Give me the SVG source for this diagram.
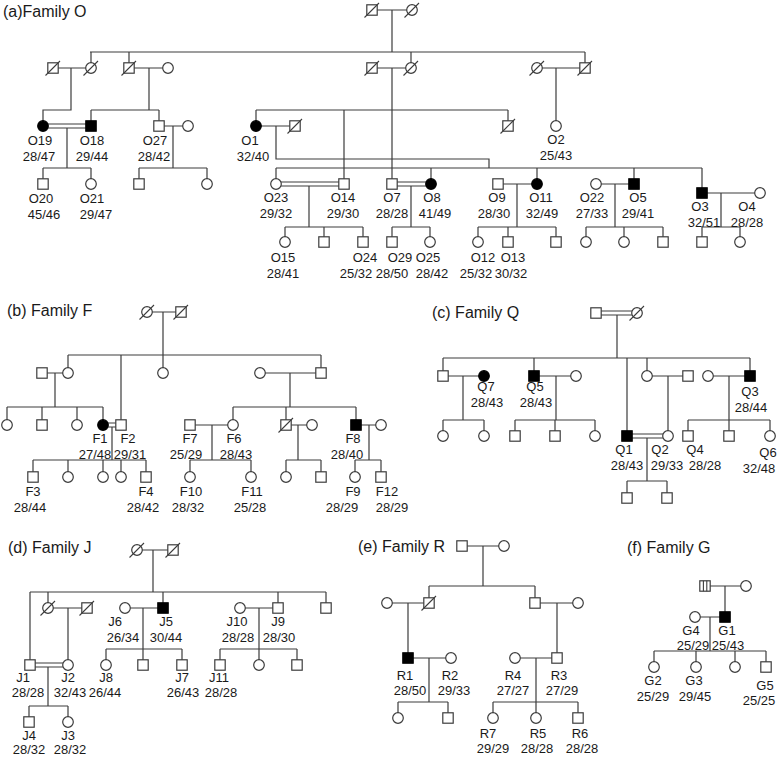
<svg xmlns="http://www.w3.org/2000/svg" width="778" height="757" viewBox="0 0 778 757">
<style>
text{font-family:"Liberation Sans",Arial,sans-serif;font-size:13px;fill:#1a1a1a;text-anchor:middle}
text.t{font-size:16px;text-anchor:start}
use.o{fill:#fff;stroke:#3c3c3c;stroke-width:1.2}
use.b{fill:#000;stroke:#000;stroke-width:1.2}
use.x{fill:none;stroke:#3c3c3c;stroke-width:1.1}
</style>
<defs>
<rect id="s" x="-5.2" y="-5.2" width="10.4" height="10.4"/>
<circle id="c" r="5.3"/>
<line id="d" x1="-7.5" y1="7.5" x2="7" y2="-7"/>
<path id="tw" d="M-1.6,-5.2V5.2M1.8,-5.2V5.2"/>
</defs>
<rect width="778" height="757" fill="#fff"/>
<text class="t" x="3" y="17">(a)Family O</text>
<text class="t" x="7" y="316">(b) Family F</text>
<text class="t" x="432" y="318">(c) Family Q</text>
<text class="t" x="8" y="553">(d) Family J</text>
<text class="t" x="358" y="552">(e) Family R</text>
<text class="t" x="627" y="553">(f) Family G</text>
<g id="connectors" fill="none" stroke="#3c3c3c" stroke-width="1.2">
<path d="M372,10H412M392,10V52M90,52H585M91,52V68M129,52V68M411,52V68M585,52V68M53,68H91M71,68V110H43V126M129,68H168M149,68V110M91,110H159M91,110V126M159,110V126M372,68H411M392,68V184M256,110H508M256,110V126M344,110V184M508,110V126M537,68H585M556,68V126"/>
<path d="M48,124H86M48,128H86M67,128V168M43,168H91M43,168V184M91,168V184M159,126H188M173,126V168M139,168H207M139,168V184M207,168V184M256,126H295M276,126V159H489V168M276,168H702M276,168V184M431,168V184M537,168V184M634,168V184M702,168V193"/>
<path d="M281,182H339M281,186H339M309,186V227M285,227H363M285,227V242M324,227V242M363,227V242M397,182H426M397,186H426M411,186V227M392,227H430M392,227V242M430,227V242M498,184H537M517,184V227M478,227H556M478,227V242M508,227V242M556,227V242M596,184H634M615,184V227M586,227H663M586,227V242M624,227V242M663,227V242M702,193H760M721,193V227M702,227H740M702,227V242M740,227V242"/>
<path d="M147,312H181M163,312V355M68,355H321M68,355V373M121,355V425M163,355V373M321,355V373M42,373H68M55,373V407M7,407H103M7,407V425M42,407V425M77,407V425M103,407V425M108,423H116M108,427H116M112,427V460M33,460H146M33,460V477M68,460V477M103,460V477M121,460V477M146,460V477"/>
<path d="M260,373H321M290,373V407M233,407H356M233,407V425M286,407V425M356,407V425M190,425H233M212,425V460M190,460H251M190,460V477M251,460V477M286,425H312M298,425V460M286,460H321M286,460V477M321,460V477M356,425H381M369,425V460M355,460H381M355,460V477M381,460V477"/>
<path d="M601,311H632M601,315H632M617,315V358M443,358H750M443,358V376M534,358V376M627,358V436M647,358V376M750,358V376M443,376H484M463,376V420M443,420H484M443,420V436M484,420V436M534,376H576M556,376V420M515,420H595M515,420V436M555,420V436M595,420V436M647,376H688M668,376V436M632,434H663M632,438H663M647,438V481M627,481H667M627,481V498M667,481V498M708,376H750M729,376V420M688,420H770M688,420V436M729,420V436M770,420V436"/>
<path d="M137,550H173M153,550V592M30,592H326M30,592V665M48,592V608M163,592V608M278,592V608M326,592V608M48,608H87M68,608V665M35,663H63M35,667H63M48,667V706M29,706H68M29,706V722M68,706V722M125,608H163M143,608V649M106,649H182M106,649V665M143,649V665M182,649V665M240,608H278M259,608V649M220,649H297M220,649V665M259,649V665M297,649V665"/>
<path d="M462,546H504M483,546V586M429,586H535M429,586V603M535,586V603M387,603H429M408,603V658M535,603H578M557,603V658M408,658H451M429,658V702M398,702H448M398,702V718M448,702V718M515,658H557M536,658V702M493,702H578M493,702V718M536,702V718M578,702V718"/>
<path d="M705,586H746M725,586V617M695,617H725M710,617V651M654,651H766M654,651V667M696,651V667M735,651V667M766,651V667"/>
</g>
<g id="familyO">
<g id="O-gp1"><use href="#s" x="372" y="10" class="o"/><use href="#d" x="372" y="10" class="x"/></g>
<g id="O-gp2"><use href="#c" x="412" y="10" class="o"/><use href="#d" x="412" y="10" class="x"/></g>
<g id="O-a1"><use href="#s" x="53" y="68" class="o"/><use href="#d" x="53" y="68" class="x"/></g>
<g id="O-a2"><use href="#c" x="91" y="68" class="o"/><use href="#d" x="91" y="68" class="x"/></g>
<g id="O-b1"><use href="#s" x="129" y="68" class="o"/><use href="#d" x="129" y="68" class="x"/></g>
<g id="O-b2"><use href="#c" x="168" y="68" class="o"/></g>
<g id="O-c1"><use href="#s" x="372" y="68" class="o"/><use href="#d" x="372" y="68" class="x"/></g>
<g id="O-c2"><use href="#c" x="411" y="68" class="o"/><use href="#d" x="411" y="68" class="x"/></g>
<g id="O-d1"><use href="#c" x="537" y="68" class="o"/><use href="#d" x="537" y="68" class="x"/></g>
<g id="O-d2"><use href="#s" x="585" y="68" class="o"/><use href="#d" x="585" y="68" class="x"/></g>
<g id="O2"><use href="#c" x="556" y="126" class="o"/><text x="556" y="144">O2</text><text x="556" y="160">25/43</text></g>
<g id="O19"><use href="#c" x="43" y="126" class="b"/><text x="40" y="145">O19</text><text x="39" y="161">28/47</text></g>
<g id="O18"><use href="#s" x="91" y="126" class="b"/><text x="92" y="145">O18</text><text x="92" y="161">29/44</text></g>
<g id="O27"><use href="#s" x="159" y="126" class="o"/><text x="155" y="145">O27</text><text x="154" y="161">28/42</text></g>
<g id="O-e1"><use href="#c" x="188" y="126" class="o"/></g>
<g id="O1"><use href="#c" x="256" y="126" class="b"/><text x="250" y="145">O1</text><text x="253" y="161">32/40</text></g>
<g id="O-f1"><use href="#s" x="295" y="126" class="o"/><use href="#d" x="295" y="126" class="x"/></g>
<g id="O-g1"><use href="#s" x="508" y="126" class="o"/><use href="#d" x="508" y="126" class="x"/></g>
<g id="O20"><use href="#s" x="43" y="184" class="o"/><text x="41" y="203">O20</text><text x="44" y="219">45/46</text></g>
<g id="O21"><use href="#c" x="91" y="184" class="o"/><text x="92" y="203">O21</text><text x="96" y="219">29/47</text></g>
<g id="O-h1"><use href="#s" x="139" y="184" class="o"/></g>
<g id="O-h2"><use href="#c" x="207" y="184" class="o"/></g>
<g id="O23"><use href="#c" x="276" y="184" class="o"/><text x="276" y="202">O23</text><text x="276" y="218">29/32</text></g>
<g id="O14"><use href="#s" x="344" y="184" class="o"/><text x="343" y="202">O14</text><text x="343" y="218">29/30</text></g>
<g id="O7"><use href="#s" x="392" y="184" class="o"/><text x="392" y="202">O7</text><text x="392" y="218">28/28</text></g>
<g id="O8"><use href="#c" x="431" y="184" class="b"/><text x="432" y="202">O8</text><text x="435" y="218">41/49</text></g>
<g id="O9"><use href="#s" x="498" y="184" class="o"/><text x="497" y="202">O9</text><text x="494" y="218">28/30</text></g>
<g id="O11"><use href="#c" x="537" y="184" class="b"/><text x="541" y="202">O11</text><text x="542" y="218">32/49</text></g>
<g id="O22"><use href="#c" x="596" y="184" class="o"/><text x="592" y="202">O22</text><text x="592" y="218">27/33</text></g>
<g id="O5"><use href="#s" x="634" y="184" class="b"/><text x="638" y="202">O5</text><text x="638" y="218">29/41</text></g>
<g id="O3"><use href="#s" x="702" y="193" class="b"/><text x="700" y="211">O3</text><text x="704" y="227">32/51</text></g>
<g id="O4"><use href="#c" x="760" y="193" class="o"/><text x="747" y="211">O4</text><text x="747" y="227">28/28</text></g>
<g id="O15"><use href="#c" x="285" y="242" class="o"/><text x="283" y="262">O15</text><text x="283" y="278">28/41</text></g>
<g id="O-i1"><use href="#s" x="324" y="242" class="o"/></g>
<g id="O24"><use href="#s" x="363" y="242" class="o"/><text x="365" y="262">O24</text><text x="356" y="278">25/32</text></g>
<g id="O29"><use href="#s" x="392" y="242" class="o"/><text x="400" y="262">O29</text><text x="392" y="278">28/50</text></g>
<g id="O25"><use href="#c" x="430" y="242" class="o"/><text x="428" y="262">O25</text><text x="432" y="278">28/42</text></g>
<g id="O12"><use href="#c" x="478" y="242" class="o"/><text x="483" y="262">O12</text><text x="476" y="278">25/32</text></g>
<g id="O13"><use href="#s" x="508" y="242" class="o"/><text x="513" y="262">O13</text><text x="511" y="278">30/32</text></g>
<g id="O-i2"><use href="#s" x="556" y="242" class="o"/></g>
<g id="O-i3"><use href="#c" x="586" y="242" class="o"/></g>
<g id="O-i4"><use href="#c" x="624" y="242" class="o"/></g>
<g id="O-i5"><use href="#s" x="663" y="242" class="o"/></g>
<g id="O-i6"><use href="#s" x="702" y="242" class="o"/></g>
<g id="O-i7"><use href="#c" x="740" y="242" class="o"/></g>
</g>
<g id="familyF">
<g id="F-p1"><use href="#c" x="147" y="312" class="o"/><use href="#d" x="147" y="312" class="x"/></g>
<g id="F-p2"><use href="#s" x="181" y="312" class="o"/><use href="#d" x="181" y="312" class="x"/></g>
<g id="F-a1"><use href="#s" x="42" y="373" class="o"/></g>
<g id="F-a2"><use href="#c" x="68" y="373" class="o"/></g>
<g id="F-b1"><use href="#c" x="163" y="373" class="o"/></g>
<g id="F-c1"><use href="#c" x="260" y="373" class="o"/></g>
<g id="F-c2"><use href="#s" x="321" y="373" class="o"/></g>
<g id="F-a3"><use href="#c" x="7" y="425" class="o"/></g>
<g id="F-a4"><use href="#s" x="42" y="425" class="o"/></g>
<g id="F-a5"><use href="#c" x="77" y="425" class="o"/></g>
<g id="F1"><use href="#c" x="103" y="425" class="b"/><text x="100" y="443">F1</text><text x="95" y="459">27/48</text></g>
<g id="F2"><use href="#s" x="121" y="425" class="o"/><text x="128" y="443">F2</text><text x="130" y="459">29/31</text></g>
<g id="F7"><use href="#s" x="190" y="425" class="o"/><text x="190" y="443">F7</text><text x="186" y="459">25/29</text></g>
<g id="F6"><use href="#c" x="233" y="425" class="o"/><text x="234" y="443">F6</text><text x="236" y="459">28/43</text></g>
<g id="F-d1"><use href="#s" x="286" y="425" class="o"/><use href="#d" x="286" y="425" class="x"/></g>
<g id="F-d2"><use href="#c" x="312" y="425" class="o"/></g>
<g id="F8"><use href="#s" x="356" y="425" class="b"/><text x="353" y="443">F8</text><text x="347" y="459">28/40</text></g>
<g id="F-e1"><use href="#c" x="381" y="425" class="o"/></g>
<g id="F3"><use href="#s" x="33" y="477" class="o"/><text x="33" y="496">F3</text><text x="30" y="512">28/44</text></g>
<g id="F-f1"><use href="#c" x="68" y="477" class="o"/></g>
<g id="F-f2"><use href="#c" x="103" y="477" class="o"/></g>
<g id="F-f3"><use href="#c" x="121" y="477" class="o"/></g>
<g id="F4"><use href="#s" x="146" y="477" class="o"/><text x="146" y="496">F4</text><text x="143" y="512">28/42</text></g>
<g id="F10"><use href="#c" x="190" y="477" class="o"/><text x="191" y="496">F10</text><text x="188" y="512">28/32</text></g>
<g id="F11"><use href="#c" x="251" y="477" class="o"/><text x="252" y="496">F11</text><text x="250" y="512">25/28</text></g>
<g id="F-g1"><use href="#c" x="286" y="477" class="o"/></g>
<g id="F-g2"><use href="#s" x="321" y="477" class="o"/></g>
<g id="F9"><use href="#c" x="355" y="477" class="o"/><text x="353" y="496">F9</text><text x="342" y="512">28/29</text></g>
<g id="F12"><use href="#s" x="381" y="477" class="o"/><text x="387" y="496">F12</text><text x="392" y="512">28/29</text></g>
</g>
<g id="familyQ">
<g id="Q-p1"><use href="#s" x="596" y="313" class="o"/></g>
<g id="Q-p2"><use href="#c" x="637" y="313" class="o"/><use href="#d" x="637" y="313" class="x"/></g>
<g id="Q-a1"><use href="#s" x="443" y="376" class="o"/></g>
<g id="Q7"><use href="#c" x="484" y="376" class="b"/><text x="486" y="391">Q7</text><text x="487" y="407">28/43</text></g>
<g id="Q5"><use href="#s" x="534" y="376" class="b"/><text x="535" y="391">Q5</text><text x="536" y="407">28/43</text></g>
<g id="Q-b1"><use href="#c" x="576" y="376" class="o"/></g>
<g id="Q-c1"><use href="#c" x="647" y="376" class="o"/></g>
<g id="Q-c2"><use href="#s" x="688" y="376" class="o"/></g>
<g id="Q-d1"><use href="#c" x="708" y="376" class="o"/></g>
<g id="Q3"><use href="#s" x="750" y="376" class="b"/><text x="750" y="396">Q3</text><text x="751" y="412">28/44</text></g>
<g id="Q-a2"><use href="#c" x="443" y="436" class="o"/></g>
<g id="Q-a3"><use href="#c" x="484" y="436" class="o"/></g>
<g id="Q-b2"><use href="#s" x="515" y="436" class="o"/></g>
<g id="Q-b3"><use href="#s" x="555" y="436" class="o"/></g>
<g id="Q-b4"><use href="#c" x="595" y="436" class="o"/></g>
<g id="Q1"><use href="#s" x="627" y="436" class="b"/><text x="624" y="454">Q1</text><text x="627" y="470">28/43</text></g>
<g id="Q2"><use href="#c" x="668" y="436" class="o"/><text x="660" y="454">Q2</text><text x="667" y="470">29/33</text></g>
<g id="Q4"><use href="#s" x="688" y="436" class="o"/><text x="695" y="454">Q4</text><text x="705" y="470">28/28</text></g>
<g id="Q-d2"><use href="#s" x="729" y="436" class="o"/></g>
<g id="Q6"><use href="#c" x="770" y="436" class="o"/><text x="768" y="457">Q6</text><text x="759" y="473">32/48</text></g>
<g id="Q-e1"><use href="#s" x="627" y="498" class="o"/></g>
<g id="Q-e2"><use href="#s" x="667" y="498" class="o"/></g>
</g>
<g id="familyJ">
<g id="J-p1"><use href="#c" x="137" y="550" class="o"/><use href="#d" x="137" y="550" class="x"/></g>
<g id="J-p2"><use href="#s" x="173" y="550" class="o"/><use href="#d" x="173" y="550" class="x"/></g>
<g id="J-a1"><use href="#c" x="48" y="608" class="o"/><use href="#d" x="48" y="608" class="x"/></g>
<g id="J-a2"><use href="#s" x="87" y="608" class="o"/><use href="#d" x="87" y="608" class="x"/></g>
<g id="J6"><use href="#c" x="125" y="608" class="o"/><text x="115" y="626">J6</text><text x="123" y="642">26/34</text></g>
<g id="J5"><use href="#s" x="163" y="608" class="b"/><text x="166" y="626">J5</text><text x="166" y="642">30/44</text></g>
<g id="J10"><use href="#c" x="240" y="608" class="o"/><text x="237" y="626">J10</text><text x="238" y="642">28/28</text></g>
<g id="J9"><use href="#s" x="278" y="608" class="o"/><text x="278" y="626">J9</text><text x="279" y="642">28/30</text></g>
<g id="J-b1"><use href="#s" x="326" y="608" class="o"/></g>
<g id="J1"><use href="#s" x="30" y="665" class="o"/><text x="23" y="682">J1</text><text x="28" y="697">28/28</text></g>
<g id="J2"><use href="#c" x="68" y="665" class="o"/><text x="68" y="682">J2</text><text x="70" y="697">32/43</text></g>
<g id="J8"><use href="#c" x="106" y="665" class="o"/><text x="106" y="682">J8</text><text x="105" y="697">26/44</text></g>
<g id="J-c1"><use href="#s" x="143" y="665" class="o"/></g>
<g id="J7"><use href="#s" x="182" y="665" class="o"/><text x="182" y="682">J7</text><text x="183" y="697">26/43</text></g>
<g id="J11"><use href="#s" x="220" y="665" class="o"/><text x="219" y="682">J11</text><text x="221" y="697">28/28</text></g>
<g id="J-d1"><use href="#c" x="259" y="665" class="o"/></g>
<g id="J-d2"><use href="#s" x="297" y="665" class="o"/></g>
<g id="J4"><use href="#s" x="29" y="722" class="o"/><text x="29" y="740">J4</text><text x="29" y="754">28/32</text></g>
<g id="J3"><use href="#c" x="68" y="722" class="o"/><text x="68" y="740">J3</text><text x="70" y="754">28/32</text></g>
</g>
<g id="familyR">
<g id="R-p1"><use href="#s" x="462" y="546" class="o"/></g>
<g id="R-p2"><use href="#c" x="504" y="546" class="o"/></g>
<g id="R-a1"><use href="#c" x="387" y="603" class="o"/></g>
<g id="R-a2"><use href="#s" x="429" y="603" class="o"/><use href="#d" x="429" y="603" class="x"/></g>
<g id="R-b1"><use href="#s" x="535" y="603" class="o"/></g>
<g id="R-b2"><use href="#c" x="578" y="603" class="o"/></g>
<g id="R1"><use href="#s" x="408" y="658" class="b"/><text x="405" y="680">R1</text><text x="410" y="695">28/50</text></g>
<g id="R2"><use href="#c" x="451" y="658" class="o"/><text x="450" y="680">R2</text><text x="454" y="695">29/33</text></g>
<g id="R4"><use href="#c" x="515" y="658" class="o"/><text x="513" y="680">R4</text><text x="513" y="695">27/27</text></g>
<g id="R3"><use href="#s" x="557" y="658" class="o"/><text x="559" y="680">R3</text><text x="562" y="695">27/29</text></g>
<g id="R-c1"><use href="#c" x="398" y="718" class="o"/></g>
<g id="R-c2"><use href="#s" x="448" y="718" class="o"/></g>
<g id="R7"><use href="#c" x="493" y="718" class="o"/><text x="488" y="738">R7</text><text x="493" y="753">29/29</text></g>
<g id="R5"><use href="#c" x="536" y="718" class="o"/><text x="538" y="738">R5</text><text x="537" y="753">28/28</text></g>
<g id="R6"><use href="#s" x="578" y="718" class="o"/><text x="580" y="738">R6</text><text x="582" y="753">28/28</text></g>
</g>
<g id="familyG">
<g id="G-p1"><use href="#s" x="705" y="586" class="o"/><use href="#tw" x="705" y="586" class="x"/></g>
<g id="G-p2"><use href="#c" x="746" y="586" class="o"/></g>
<g id="G4"><use href="#c" x="695" y="617" class="o"/><text x="691" y="635">G4</text><text x="693" y="650">25/29</text></g>
<g id="G1"><use href="#s" x="725" y="617" class="b"/><text x="727" y="635">G1</text><text x="728" y="650">25/43</text></g>
<g id="G2"><use href="#c" x="654" y="667" class="o"/><text x="653" y="685">G2</text><text x="653" y="701">25/29</text></g>
<g id="G3"><use href="#c" x="696" y="667" class="o"/><text x="694" y="685">G3</text><text x="695" y="701">29/45</text></g>
<g id="G-a1"><use href="#c" x="735" y="667" class="o"/></g>
<g id="G5"><use href="#s" x="766" y="667" class="o"/><text x="765" y="690">G5</text><text x="759" y="705">25/25</text></g>
</g>
</svg>
